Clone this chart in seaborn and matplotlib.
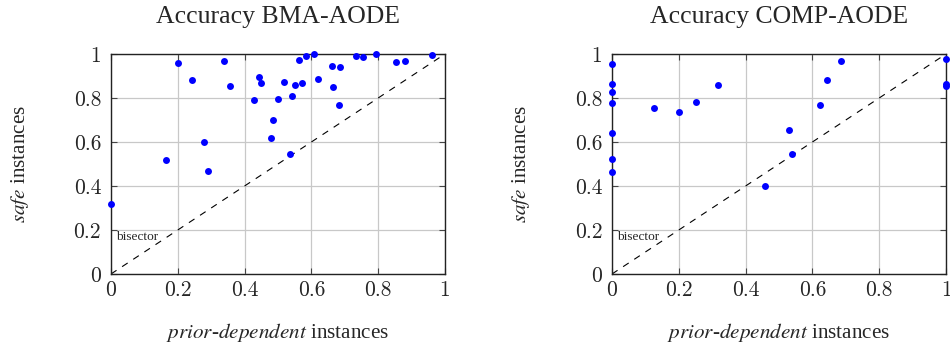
import numpy as np
import pandas as pd
import seaborn as sns
import matplotlib.pyplot as plt

# BMA-AODE : (prior-dependent, safe)
bma_prior = [0.0, 0.166, 0.20, 0.243, 0.278, 0.29, 0.338, 0.357, 0.429, 0.443, 0.45,
             0.479, 0.484, 0.499, 0.518, 0.537, 0.543, 0.552, 0.564, 0.572, 0.584,
             0.607, 0.62, 0.661, 0.666, 0.684, 0.685, 0.735, 0.754, 0.793, 0.852,
             0.881, 0.96]
bma_safe = [0.32, 0.518, 0.96, 0.883, 0.599, 0.467, 0.967, 0.855, 0.792, 0.894, 0.87,
            0.62, 0.701, 0.794, 0.871, 0.545, 0.809, 0.858, 0.973, 0.867, 0.991,
            1.0, 0.886, 0.944, 0.848, 0.77, 0.941, 0.991, 0.986, 1.0, 0.964,
            0.967, 0.994]

# COMP-AODE
comp_prior = [0.0, 0.0, 0.0, 0.0, 0.0, 0.0, 0.0, 0.126, 0.2, 0.251, 0.318, 0.459,
              0.529, 0.539, 0.623, 0.644, 0.685, 1.0, 1.0, 1.0]
comp_safe = [0.956, 0.862, 0.829, 0.776, 0.642, 0.523, 0.465, 0.756, 0.738, 0.78,
             0.859, 0.4, 0.653, 0.544, 0.767, 0.883, 0.967, 0.975, 0.865, 0.855]

titles = ['Accuracy BMA-AODE', 'Accuracy COMP-AODE']
ticks = [0, 0.2, 0.4, 0.6, 0.8, 1]
tick_labels = ['0', '0.2', '0.4', '0.6', '0.8', '1']

sns.set_style('white')
plt.rcParams['font.family'] = ['Liberation Serif', 'DejaVu Serif']
plt.rcParams['mathtext.fontset'] = 'stix'

fig = plt.figure(figsize=(9.5, 3.47), dpi=100)
ax1 = fig.add_axes([0.1168, 0.2104, 0.3516, 0.634])
ax2 = fig.add_axes([0.6442, 0.2104, 0.3516, 0.634])

data = [(bma_prior, bma_safe), (comp_prior, comp_safe)]

for ax, (xs, ys), title in zip([ax1, ax2], data, titles):
    df = pd.DataFrame({'prior': xs, 'safe': ys})
    # bissectrice
    ax.plot([0, 1], [0, 1], color='black', lw=0.8, ls=(0, (6, 6)), zorder=2)
    sns.scatterplot(data=df, x='prior', y='safe', ax=ax, color='#0000ff',
                    s=25, linewidth=0, zorder=3, clip_on=False)
    ax.text(0.016, 0.168, 'bisector', fontsize=9.6, va='center', ha='left')
    ax.set_xlim(0, 1)
    ax.set_ylim(0, 1)
    ax.set_xticks(ticks)
    ax.set_yticks(ticks)
    ax.set_xticklabels(tick_labels, fontfamily='cmr10', fontsize=15.5)
    ax.set_yticklabels(tick_labels, fontfamily='cmr10', fontsize=15.5)
    ax.grid(True, color='#c8c8c8', lw=0.9)
    ax.set_axisbelow(True)
    ax.tick_params(direction='in', length=4, width=0.8, color='#444444',
                   top=True, right=True, bottom=True, left=True)
    ax.tick_params(axis='x', pad=5)
    ax.tick_params(axis='y', pad=7)
    for sp in ax.spines.values():
        sp.set_color('#222222')
        sp.set_linewidth(1.0)
    # titre
    ax.text(0.5, 1.141, title, transform=ax.transAxes, ha='center',
            va='baseline', fontsize=18.5)
    ax.set_xlabel(r'$\it{prior}$-$\it{dependent}$ instances', fontsize=15.2, va='baseline')
    ax.xaxis.set_label_coords(0.5, -0.291)
    ax.set_ylabel(r'$\it{safe}$ instances', fontsize=15.2, va='center')
    ax.yaxis.set_label_coords(-0.272, 0.5)

plt.savefig('out.png', dpi=100)
